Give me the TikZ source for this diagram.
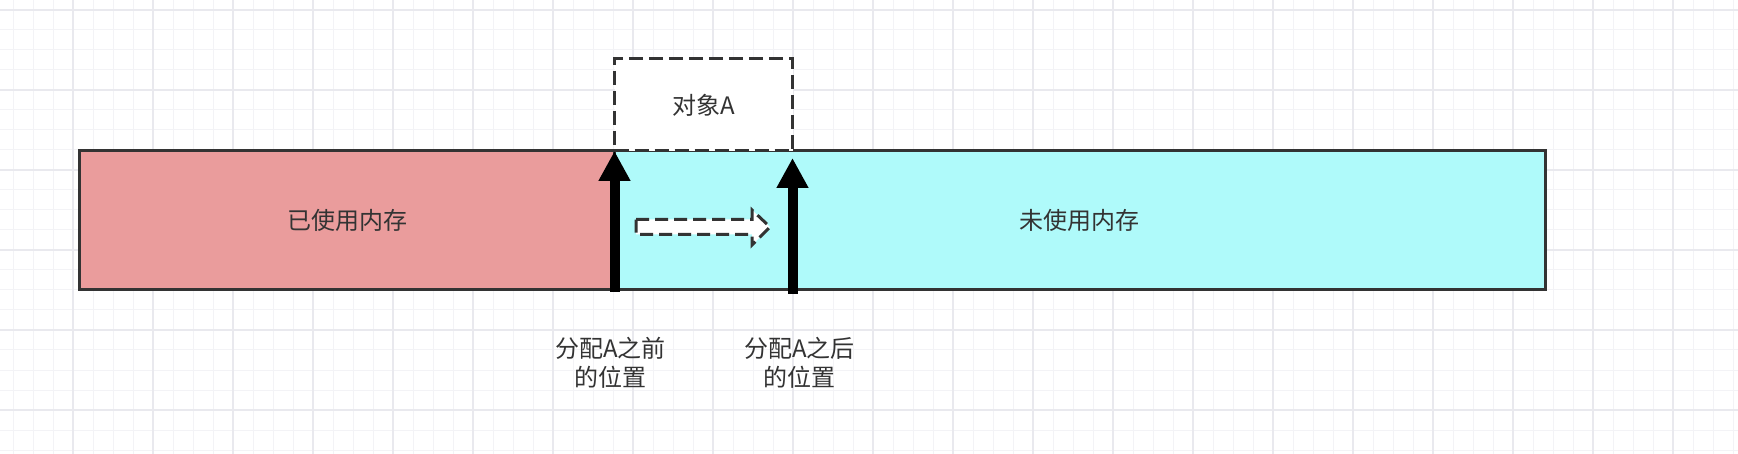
\documentclass[tikz,border=0pt]{standalone}
\usepackage{fontspec}
\setmainfont{Noto Sans CJK SC}
\usetikzlibrary{arrows.meta, positioning}
\definecolor{usedred}{RGB}{234,156,156}
\definecolor{freecyan}{RGB}{175,250,250}
\definecolor{edgegray}{RGB}{51,51,51}
\definecolor{gridminor}{RGB}{243,243,246}
\definecolor{gridmajor}{RGB}{233,233,238}

\begin{document}
\begin{tikzpicture}[x=1pt, y=-1pt,
    font=\fontsize{24}{29}\selectfont,
    memblock/.style={rectangle, draw=edgegray, line width=3pt, inner sep=0pt, outer sep=0pt, minimum height=139pt, text=edgegray},
    objbox/.style={rectangle, draw=edgegray, line width=3pt, dash pattern=on 14pt off 6pt, fill=white, inner sep=0pt, outer sep=0pt, minimum width=178pt, minimum height=92pt, text=edgegray},
    pointer/.style={line width=10pt, black, -{Triangle[length=30pt, width=30pt]}},
    poslabel/.style={align=center, text=edgegray, inner sep=0pt}
]
\useasboundingbox (0,0) rectangle (1738,454);

% Background grid
\foreach \gx in {13,33,...,1733} \draw[gridminor, line width=1pt] (\gx,0) -- (\gx,454);
\foreach \gy in {10,30,...,450} \draw[gridminor, line width=1pt] (0,\gy) -- (1738,\gy);
\foreach \gx in {73,153,...,1673} \draw[gridmajor, line width=1.2pt] (\gx,0) -- (\gx,454);
\foreach \gy in {10,90,...,410} \draw[gridmajor, line width=1.2pt] (0,\gy) -- (1738,\gy);

% Memory bar
\node[memblock, fill=usedred, minimum width=535pt, anchor=north west] (used) at (79.5,151) {已使用内存};
\node[memblock, fill=freecyan, minimum width=930.5pt, right=0pt of used] (free) {未使用内存};

% Object A
\node[objbox, anchor=south west] (objA) at (used.north east) {对象A};

% Allocation pointers
\coordinate (beforeTop) at (used.north east);
\coordinate (beforeBot) at ([yshift=-2pt]used.south east);
\coordinate (afterTop) at ([yshift=-7pt]objA.south east);
\coordinate (afterBot) at ([yshift=-4pt]objA.south east |- used.south);
\draw[pointer] (beforeBot) -- (beforeTop);
\draw[pointer] (afterBot) -- (afterTop);

% Moving direction
\coordinate (moveStart) at (636,227);
\draw[edgegray, fill=white, line width=3pt, dash pattern=on 13pt off 6pt, line join=miter]
    (moveStart) ++(0,-7.5) -- ++(116,0) -- ++(0,-9.5) -- ++(18,17) -- ++(-18,18) -- ++(0,-10.5) -- ++(-116,0) -- cycle;

% Labels
\node[poslabel] (beforeLbl) at ([xshift=-4pt, yshift=-73pt]used.south east) {分配A之前\\的位置};
\node[poslabel] (afterLbl) at ([xshift=7pt, yshift=-73pt]objA.south east |- used.south) {分配A之后\\的位置};

\end{tikzpicture}
\end{document}
